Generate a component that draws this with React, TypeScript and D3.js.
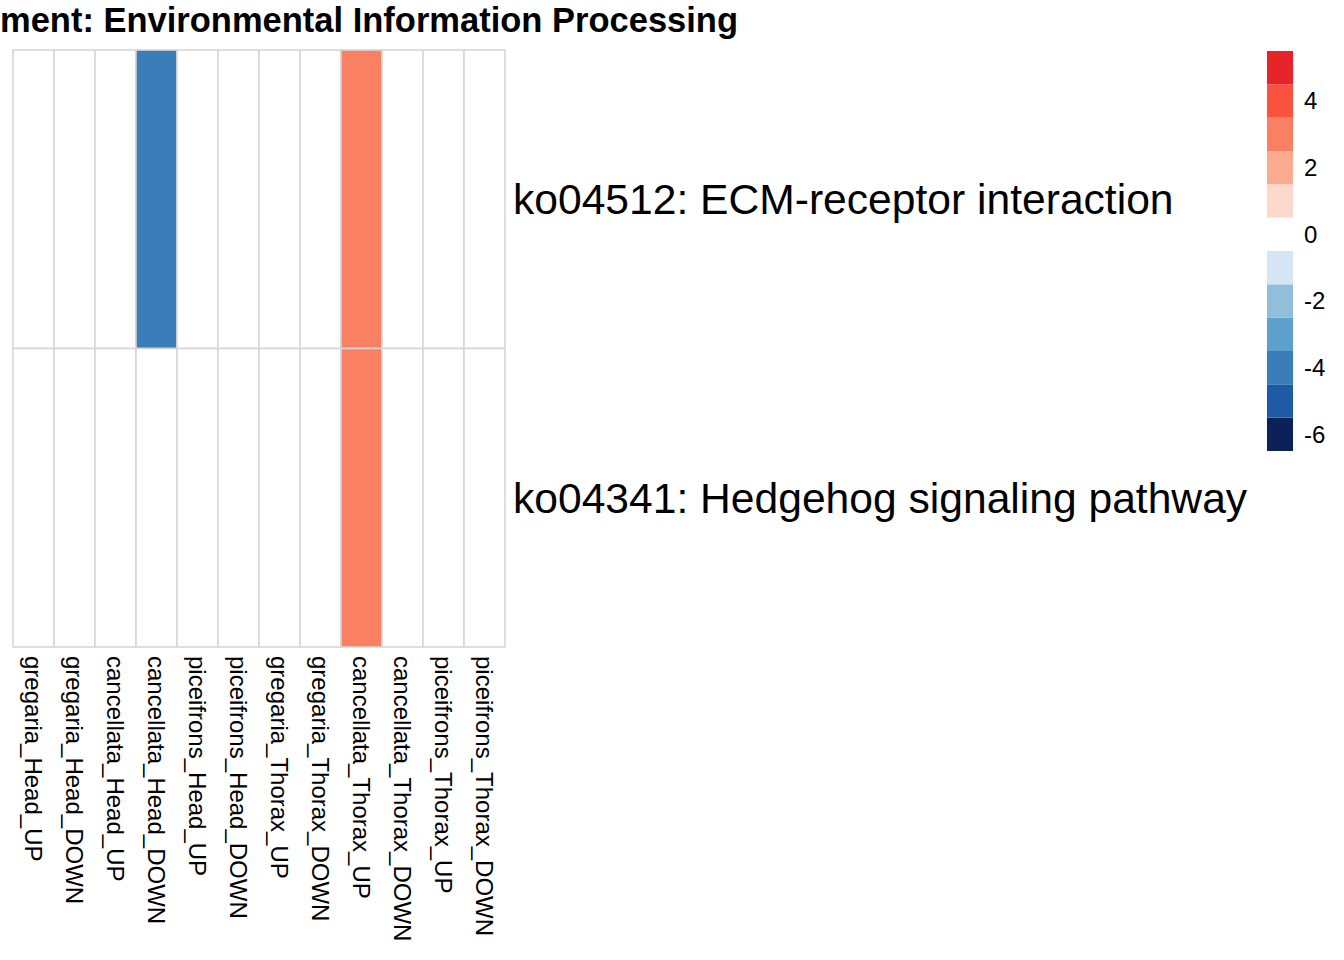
import { useEffect, useRef } from "react";
import * as d3 from "d3";

const title = "ment: Environmental Information Processing";

const samples = [
  "gregaria_Head_UP",
  "gregaria_Head_DOWN",
  "cancellata_Head_UP",
  "cancellata_Head_DOWN",
  "piceifrons_Head_UP",
  "piceifrons_Head_DOWN",
  "gregaria_Thorax_UP",
  "gregaria_Thorax_DOWN",
  "cancellata_Thorax_UP",
  "cancellata_Thorax_DOWN",
  "piceifrons_Thorax_UP",
  "piceifrons_Thorax_DOWN",
];

const pathways = ["ko04512: ECM-receptor interaction", "ko04341: Hedgehog signaling pathway"];

const ecmValues = [0, 0, 0, -4, 0, 0, 0, 0, 3, 0, 0, 0];
const hedgehogValues = [0, 0, 0, 0, 0, 0, 0, 0, 3, 0, 0, 0];

// colour breaks, bottom to top
const breaks = [-6.5, -5.5, -4.5, -3.5, -2.5, -1.5, -0.5, 0.5, 1.5, 2.5, 3.5, 4.5, 5.5];
const paletteColors = [
  "#0c2157", "#1e5ba4", "#3a7db8", "#5da0cc", "#91bedb", "#d4e5f4",
  "#ffffff",
  "#fdd9cc", "#faab90", "#f98062", "#f9533d", "#e8242a",
];
const legendTicks = [4, 2, 0, -2, -4, -6];

export default function App() {
  const ref = useRef<SVGSVGElement>(null);

  useEffect(() => {
    if (!ref.current) return;
    const width = 1344;
    const height = 960;
    const svg = d3.select(ref.current);
    svg.selectAll("*").remove();
    svg.attr("width", width).attr("height", height);

    const font = "'Liberation Sans', Arial, Helvetica, sans-serif";
    const rowsData = [ecmValues, hedgehogValues];

    const x = d3.scaleBand().domain(samples).range([13, 505]);
    const y = d3.scaleBand().domain(pathways).range([50, 647]);
    const color = d3
      .scaleThreshold<number, string>()
      .domain(breaks.slice(1, -1))
      .range(paletteColors);

    // title
    svg
      .append("text")
      .attr("x", 738)
      .attr("y", 32)
      .attr("text-anchor", "end")
      .attr("font-family", font)
      .attr("font-weight", "bold")
      .attr("font-size", 34.5)
      .attr("fill", "#000")
      .text(title);

    // cells
    const cells = pathways.flatMap((p, i) =>
      samples.map((s, j) => ({ p, s, v: rowsData[i][j] }))
    );
    svg
      .append("g")
      .selectAll("rect")
      .data(cells)
      .join("rect")
      .attr("x", (d) => x(d.s) ?? 0)
      .attr("y", (d) => y(d.p) ?? 0)
      .attr("width", x.bandwidth())
      .attr("height", y.bandwidth())
      .attr("fill", (d) => color(d.v))
      .attr("stroke", "#d6d6d6")
      .attr("stroke-width", 1.6);

    // row labels
    svg
      .append("g")
      .selectAll("text")
      .data(pathways)
      .join("text")
      .attr("x", 513)
      .attr("y", (d) => (y(d) ?? 0) + y.bandwidth() / 2)
      .attr("dy", "0.35em")
      .attr("font-family", font)
      .attr("font-size", 42.6)
      .attr("fill", "#000")
      .text((d) => d);

    // column labels
    svg
      .append("g")
      .selectAll("text")
      .data(samples)
      .join("text")
      .attr(
        "transform",
        (d) => `translate(${(x(d) ?? 0) + x.bandwidth() / 2},656) rotate(90)`
      )
      .attr("dy", "0.35em")
      .attr("font-family", font)
      .attr("font-size", 24)
      .attr("fill", "#000")
      .text((d) => d);

    // legend
    const ly = d3.scaleLinear().domain([-6.5, 5.5]).range([451, 51]);
    const bands = paletteColors.map((c, i) => ({ c, lo: breaks[i], hi: breaks[i + 1] }));
    svg
      .append("g")
      .selectAll("rect")
      .data(bands)
      .join("rect")
      .attr("x", 1267)
      .attr("width", 26)
      .attr("y", (d) => ly(d.hi))
      .attr("height", (d) => ly(d.lo) - ly(d.hi))
      .attr("fill", (d) => d.c);

    svg
      .append("g")
      .selectAll("text")
      .data(legendTicks)
      .join("text")
      .attr("x", 1304)
      .attr("y", (d) => ly(d))
      .attr("dy", "0.35em")
      .attr("font-family", font)
      .attr("font-size", 24)
      .attr("fill", "#000")
      .text((d) => `${d}`);
  }, []);

  return (
    <div style={{ position: "absolute", left: 0, top: 0, background: "#fff" }}>
      <svg ref={ref} style={{ display: "block" }} />
    </div>
  );
}
